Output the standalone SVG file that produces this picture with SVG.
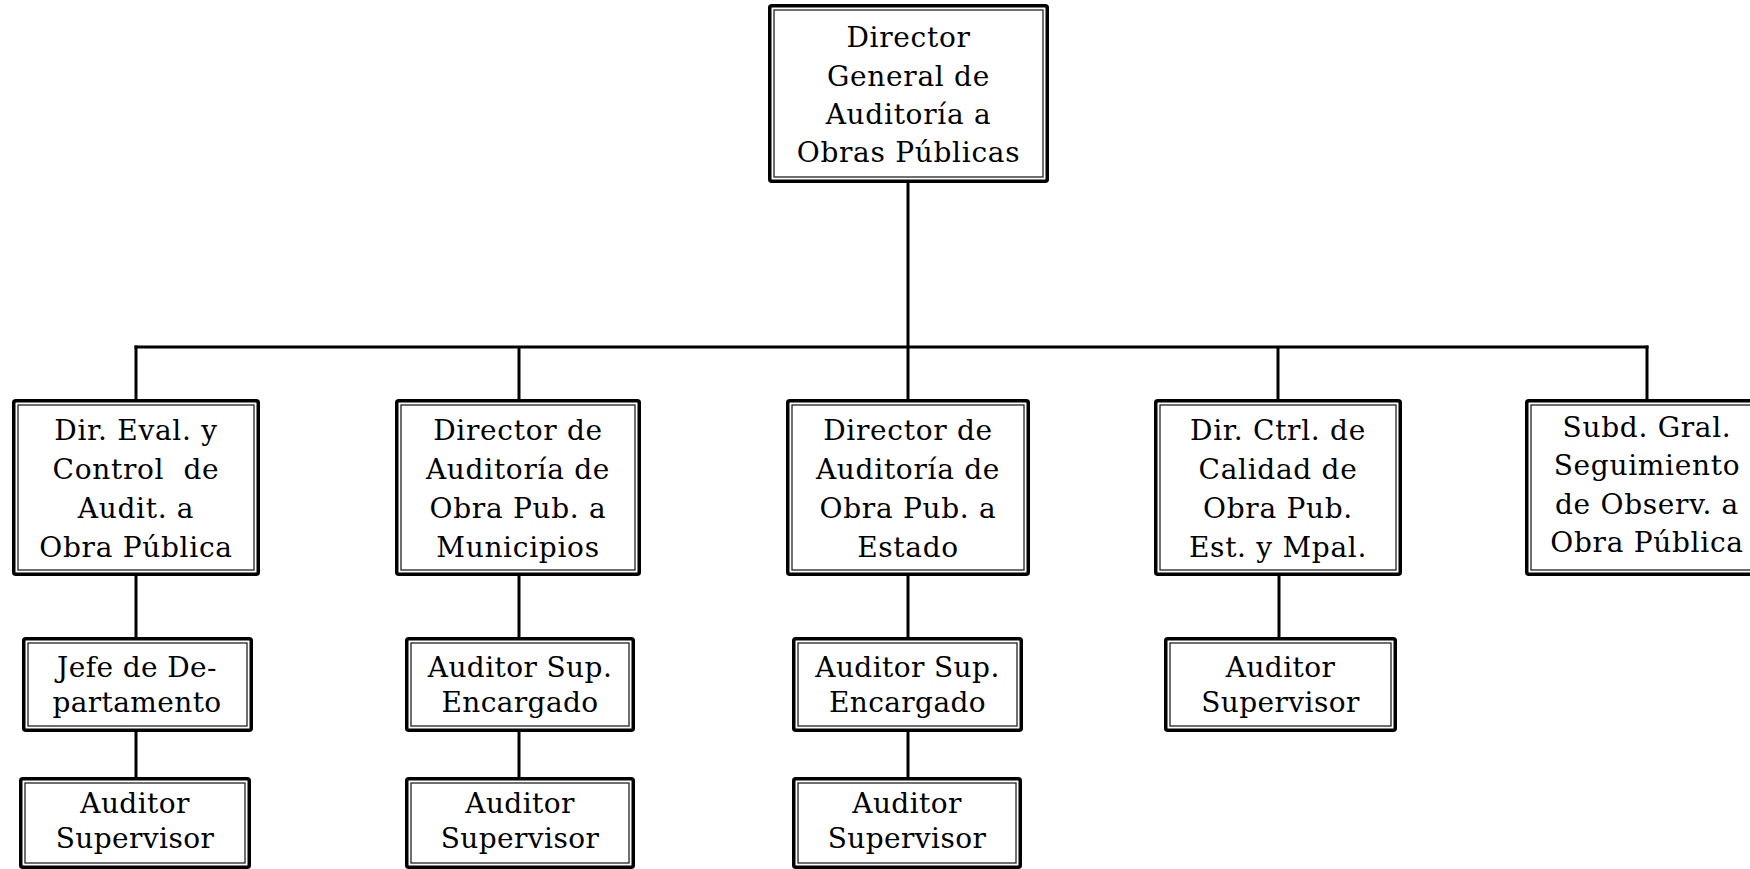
<svg xmlns="http://www.w3.org/2000/svg" width="1750" height="869" viewBox="0 0 1750 869">
<style>
.outer{fill:#fff;stroke:#000;stroke-width:3.5}
.inner{fill:none;stroke:#222;stroke-width:1.3}
.t,.s{font-family:"DejaVu Serif","Liberation Serif",serif;font-size:28px;letter-spacing:0.7px;fill:#000;text-anchor:middle}
.s{letter-spacing:0.4px}
.pre{white-space:pre}
.c{stroke:#000;stroke-width:3;fill:none}
</style>
<rect width="1750" height="869" fill="#fff"/>
<g id="connectors">
<line class="c" x1="908" y1="183" x2="908" y2="399"/>
<line class="c" x1="134.5" y1="347" x2="1648.5" y2="347"/>
<line class="c" x1="136" y1="345.5" x2="136" y2="399"/>
<line class="c" x1="519" y1="347" x2="519" y2="399"/>
<line class="c" x1="1278" y1="347" x2="1278" y2="399"/>
<line class="c" x1="1647" y1="345.5" x2="1647" y2="399"/>
<line class="c" x1="136" y1="576" x2="136" y2="638"/>
<line class="c" x1="519" y1="576" x2="519" y2="638"/>
<line class="c" x1="908" y1="576" x2="908" y2="638"/>
<line class="c" x1="1279" y1="576" x2="1279" y2="638"/>
<line class="c" x1="136" y1="732" x2="136" y2="777"/>
<line class="c" x1="519" y1="732" x2="519" y2="777"/>
<line class="c" x1="908" y1="732" x2="908" y2="777"/>
</g>
<g id="n-top">
<rect class="outer" x="769.75" y="5.75" width="277.5" height="175.5" rx="2"/>
<rect class="inner" x="774" y="10" width="269" height="167"/>
<text class="t" x="908.5" y="47">Director</text>
<text class="t" x="908.5" y="86">General de</text>
<text class="t" x="908.5" y="124">Auditoría a</text>
<text class="t" x="908.5" y="162">Obras Públicas</text>
</g>
<g id="n-eval">
<rect class="outer" x="13.75" y="400.75" width="244.5" height="173.5" rx="2"/>
<rect class="inner" x="18" y="405" width="236" height="165"/>
<text class="t" x="136" y="440">Dir. Eval. y</text>
<text class="t pre" x="136" y="479">Control  de</text>
<text class="t" x="136" y="518">Audit. a</text>
<text class="t" x="136" y="557">Obra Pública</text>
</g>
<g id="n-mun">
<rect class="outer" x="396.75" y="400.75" width="242.5" height="173.5" rx="2"/>
<rect class="inner" x="401" y="405" width="234" height="165"/>
<text class="t" x="518" y="440">Director de</text>
<text class="t" x="518" y="479">Auditoría de</text>
<text class="t" x="518" y="518">Obra Pub. a</text>
<text class="t" x="518" y="557">Municipios</text>
</g>
<g id="n-est">
<rect class="outer" x="787.75" y="400.75" width="240.5" height="173.5" rx="2"/>
<rect class="inner" x="792" y="405" width="232" height="165"/>
<text class="t" x="908" y="440">Director de</text>
<text class="t" x="908" y="479">Auditoría de</text>
<text class="t" x="908" y="518">Obra Pub. a</text>
<text class="t" x="908" y="557">Estado</text>
</g>
<g id="n-cal">
<rect class="outer" x="1155.75" y="400.75" width="244.5" height="173.5" rx="2"/>
<rect class="inner" x="1160" y="405" width="236" height="165"/>
<text class="t" x="1278" y="440">Dir. Ctrl. de</text>
<text class="t" x="1278" y="479">Calidad de</text>
<text class="t" x="1278" y="518">Obra Pub.</text>
<text class="t" x="1278" y="557">Est. y Mpal.</text>
</g>
<g id="n-seg">
<rect class="outer" x="1526.75" y="400.75" width="240.5" height="173.5" rx="2"/>
<rect class="inner" x="1531" y="405" width="232" height="165"/>
<text class="t" x="1647" y="437">Subd. Gral.</text>
<text class="t" x="1647" y="475">Seguimiento</text>
<text class="t" x="1647" y="514">de Observ. a</text>
<text class="t" x="1647" y="552">Obra Pública</text>
</g>
<g id="n-jefe">
<rect class="outer" x="23.75" y="638.75" width="227.5" height="91.5" rx="2"/>
<rect class="inner" x="28" y="643" width="219" height="83"/>
<text class="s" x="137" y="677">Jefe de De-</text>
<text class="s" x="137" y="712">partamento</text>
</g>
<g id="n-enc-m">
<rect class="outer" x="406.75" y="638.75" width="226.5" height="91.5" rx="2"/>
<rect class="inner" x="411" y="643" width="218" height="83"/>
<text class="s" x="520" y="677">Auditor Sup.</text>
<text class="s" x="520" y="712">Encargado</text>
</g>
<g id="n-enc-e">
<rect class="outer" x="793.75" y="638.75" width="227.5" height="91.5" rx="2"/>
<rect class="inner" x="798" y="643" width="219" height="83"/>
<text class="s" x="907.5" y="677">Auditor Sup.</text>
<text class="s" x="907.5" y="712">Encargado</text>
</g>
<g id="n-sup-c">
<rect class="outer" x="1165.75" y="638.75" width="229.5" height="91.5" rx="2"/>
<rect class="inner" x="1170" y="643" width="221" height="83"/>
<text class="s" x="1280.5" y="677">Auditor</text>
<text class="s" x="1280.5" y="712">Supervisor</text>
</g>
<g id="n-sup-1">
<rect class="outer" x="20.75" y="778.75" width="228.5" height="88.5" rx="2"/>
<rect class="inner" x="25" y="783" width="220" height="80"/>
<text class="s" x="135" y="813">Auditor</text>
<text class="s" x="135" y="848">Supervisor</text>
</g>
<g id="n-sup-2">
<rect class="outer" x="406.75" y="778.75" width="226.5" height="88.5" rx="2"/>
<rect class="inner" x="411" y="783" width="218" height="80"/>
<text class="s" x="520" y="813">Auditor</text>
<text class="s" x="520" y="848">Supervisor</text>
</g>
<g id="n-sup-3">
<rect class="outer" x="793.75" y="778.75" width="226.5" height="88.5" rx="2"/>
<rect class="inner" x="798" y="783" width="218" height="80"/>
<text class="s" x="907" y="813">Auditor</text>
<text class="s" x="907" y="848">Supervisor</text>
</g>
</svg>
